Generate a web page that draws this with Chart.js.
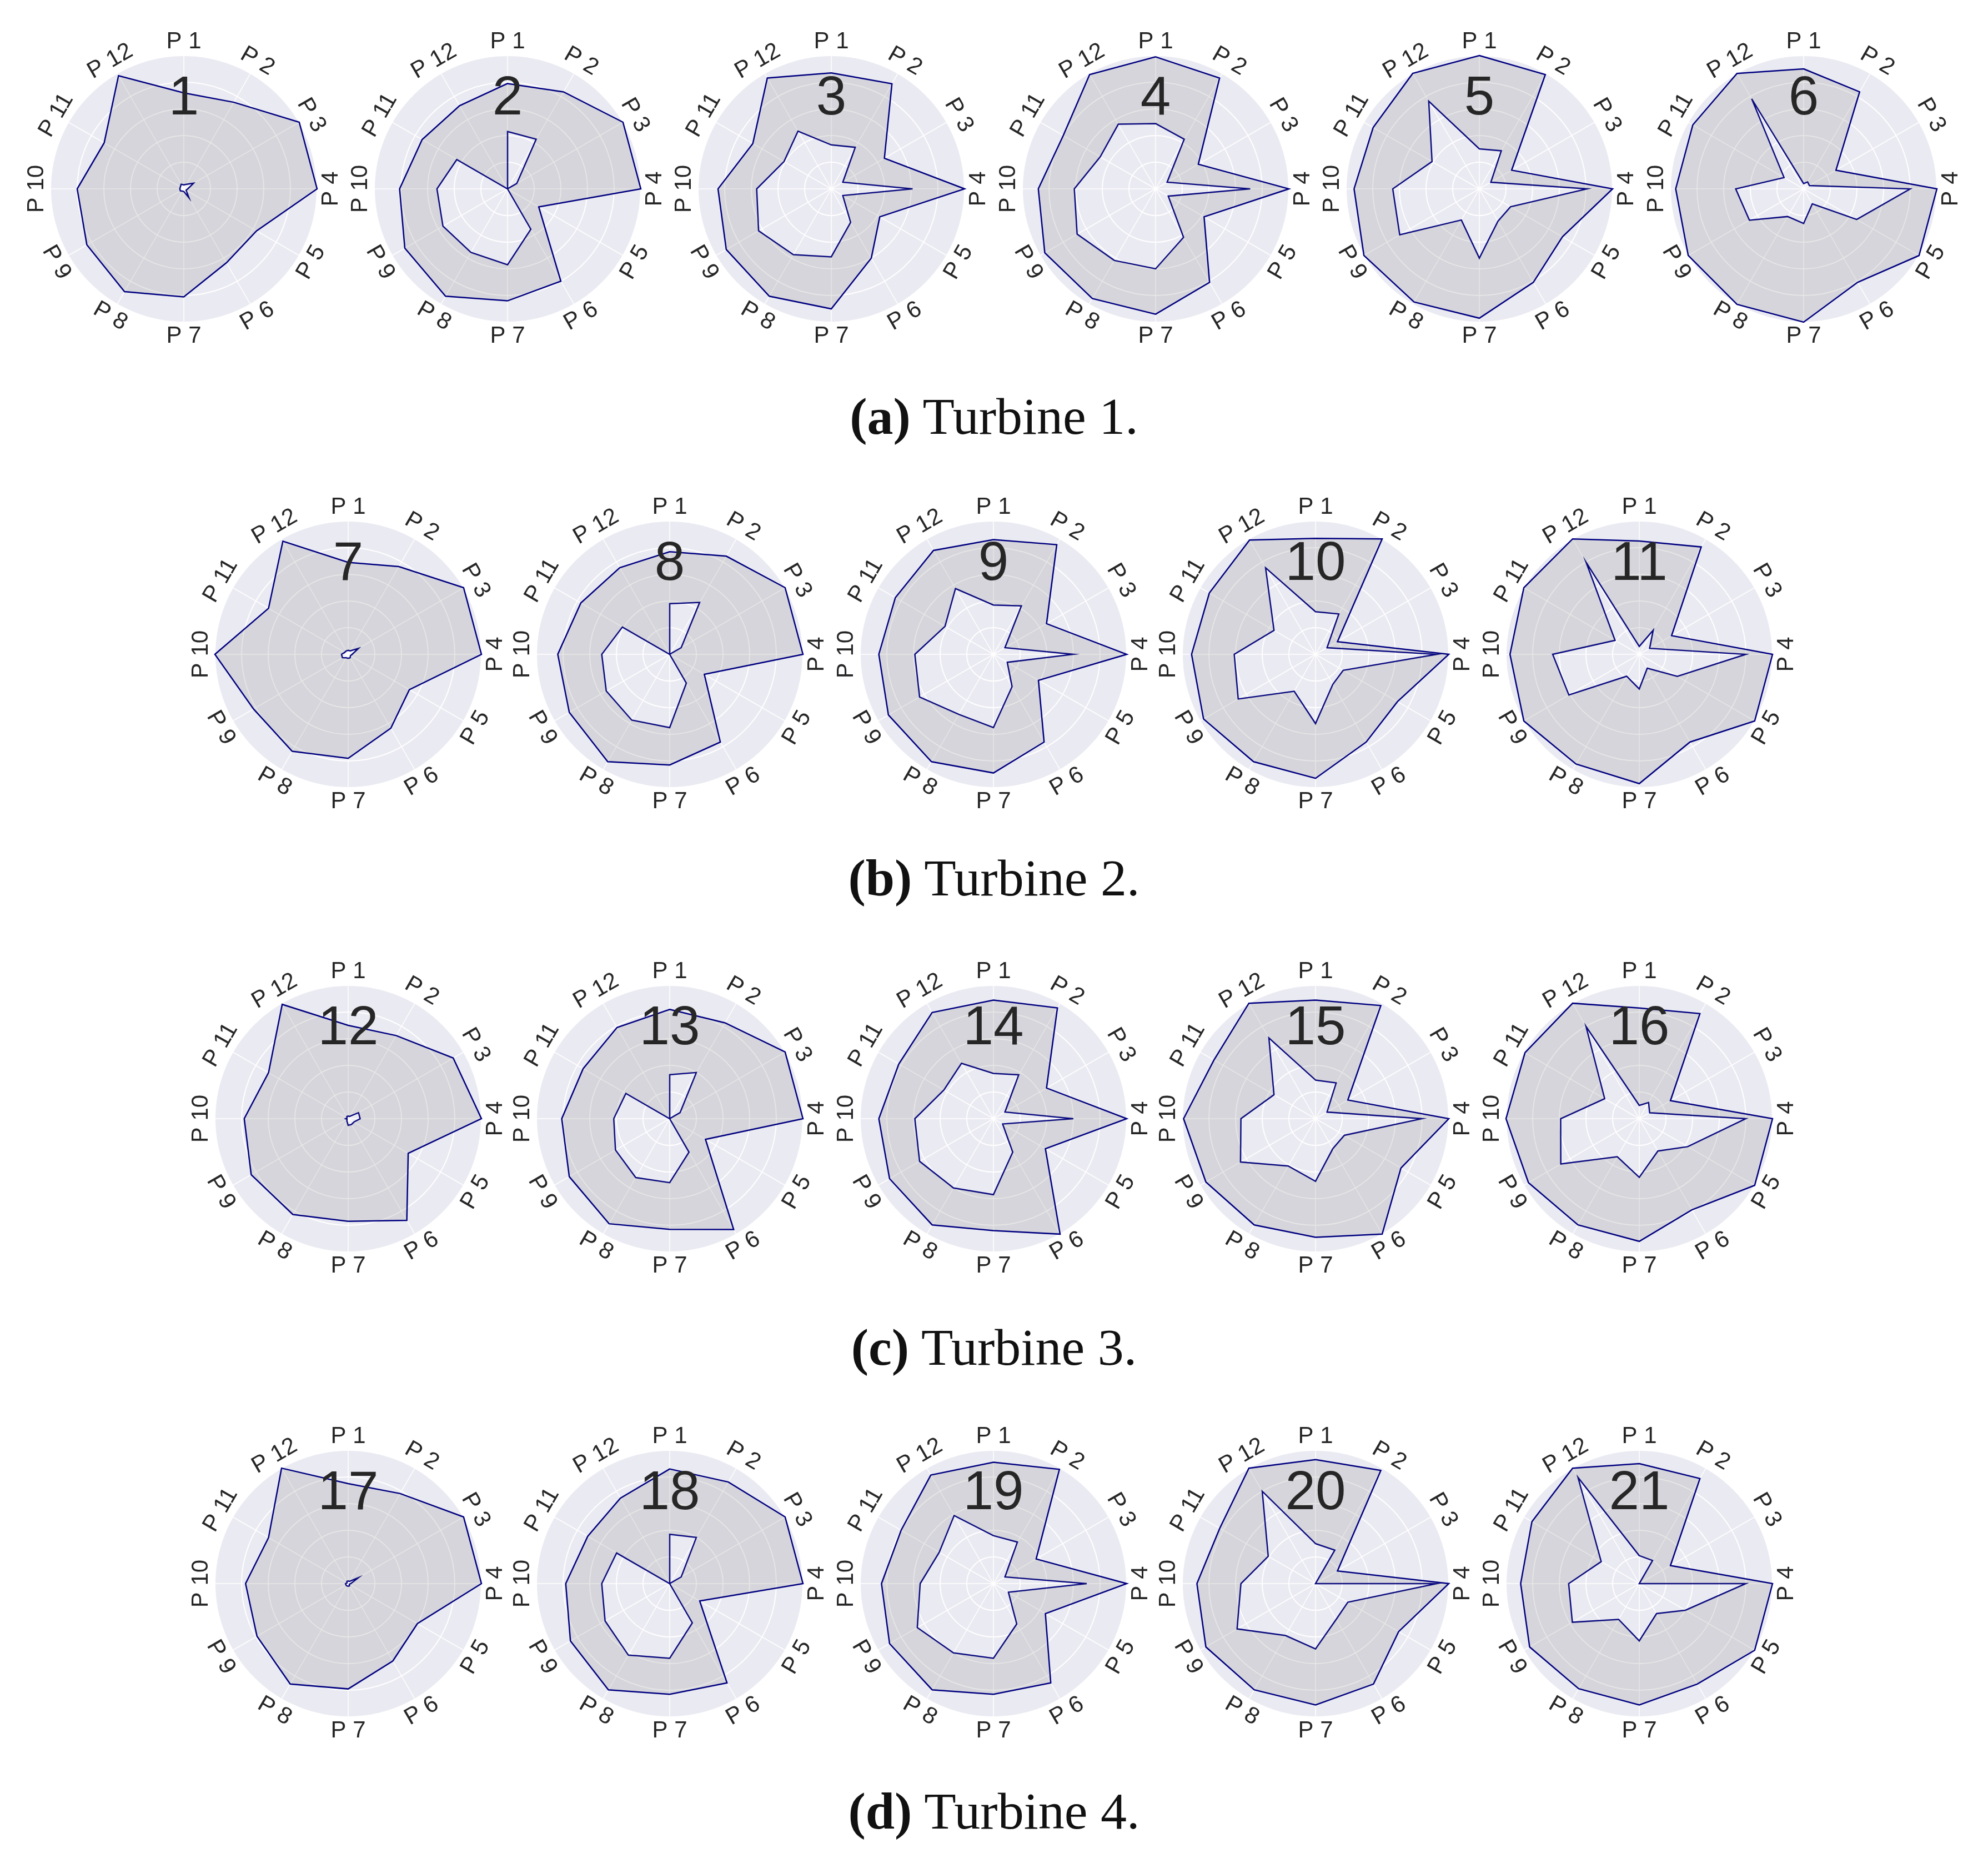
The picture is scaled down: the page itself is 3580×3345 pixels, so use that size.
<!DOCTYPE html>
<html>
<head>
<meta charset="utf-8">
<script src="https://cdn.jsdelivr.net/npm/chart.js@4.4.1/dist/chart.umd.min.js"></script>
<style>
  html, body { margin:0; padding:0; background:#ffffff; }
  body { width:3580px; height:3345px; position:relative; overflow:hidden; }
  canvas.rc { position:absolute; }
  .cap { position:absolute; left:0; width:3580px; text-align:center;
         font-family:"Palatino Linotype","Book Antiqua",Palatino,"Liberation Serif","DejaVu Serif",serif;
         font-size:94px; line-height:110px; color:#111; }
  .cap b { font-weight:bold; }
</style>
</head>
<body>
<script>
// ---------- DATA ----------
const pointLabels = ['P 1','P 2','P 3','P 4','P 5','P 6','P 7','P 8','P 9','P 10','P 11','P 12'];
const chartNumbers = ['1','2','3','4','5','6','7','8','9','10','11','12','13','14','15','16','17','18','19','20','21'];
const captionLetters = ['(a)','(b)','(c)','(d)'];
const captionTexts = ['Turbine 1.','Turbine 2.','Turbine 3.','Turbine 4.'];

// outer / inner profile of each radar, values P1..P12 (scale 0..1)
const outer01 = [0.72,0.75,1.00,1.00,0.63,0.64,0.81,0.89,0.84,0.80,0.69,0.98];
const inner01 = [0.03,0.04,0.085,0.03,0.02,0.08,0.02,0.02,0.03,0.03,0.03,0.04];
const outer02 = [0.79,0.84,1.00,1.00,0.27,0.80,0.84,0.93,0.89,0.81,0.74,0.72];
const inner02 = [0.43,0.43,0.08,0.00,0.00,0.35,0.57,0.55,0.56,0.53,0.44,0.00];
const outer03 = [0.87,0.91,0.46,1.00,0.42,0.60,0.90,0.93,0.91,0.85,0.68,0.96];
const inner03 = [0.33,0.36,0.10,0.61,0.10,0.29,0.51,0.57,0.63,0.56,0.41,0.50];
const outer04 = [0.99,0.96,0.37,1.00,0.42,0.81,0.94,0.95,0.96,0.88,0.80,0.99];
const inner04 = [0.49,0.43,0.10,0.71,0.11,0.42,0.60,0.62,0.68,0.61,0.48,0.56];
const outer05 = [1.00,0.99,0.28,1.00,0.72,0.81,0.97,0.98,1.00,0.94,0.92,1.00];
const inner05 = [0.30,0.33,0.10,0.81,0.27,0.28,0.52,0.27,0.69,0.65,0.41,0.76];
const outer06 = [0.90,0.84,0.28,1.00,1.00,0.81,1.00,1.00,1.00,0.96,0.96,1.00];
const inner06 = [0.04,0.06,0.05,0.80,0.46,0.13,0.26,0.24,0.47,0.51,0.17,0.78];
const outer07 = [0.69,0.76,1.00,1.00,0.53,0.64,0.78,0.84,0.82,1.00,0.69,0.98];
const inner07 = [0.03,0.03,0.09,0.03,0.02,0.03,0.03,0.03,0.05,0.05,0.03,0.03];
const outer08 = [0.77,0.85,1.00,1.00,0.30,0.76,0.83,0.93,0.87,0.84,0.77,0.75];
const inner08 = [0.38,0.45,0.10,0.00,0.00,0.25,0.55,0.57,0.55,0.51,0.41,0.00];
const outer09 = [0.86,0.95,0.46,1.00,0.39,0.76,0.89,0.93,0.91,0.86,0.85,0.90];
const inner09 = [0.37,0.42,0.10,0.60,0.12,0.28,0.55,0.52,0.64,0.59,0.42,0.57];
const outer10 = [0.87,1.00,0.19,1.00,0.71,0.76,0.93,0.93,0.97,0.93,0.92,0.99];
const inner10 = [0.32,0.35,0.10,0.91,0.24,0.26,0.52,0.32,0.67,0.61,0.36,0.75];
const outer11 = [0.85,0.93,0.28,1.00,1.00,0.76,0.97,0.95,1.00,0.97,1.00,1.00];
const inner11 = [0.06,0.21,0.09,0.80,0.33,0.12,0.26,0.19,0.61,0.65,0.21,0.80];
const outer12 = [0.70,0.72,0.91,1.00,0.52,0.88,0.77,0.83,0.84,0.78,0.69,0.99];
const inner12 = [0.02,0.02,0.09,0.09,0.05,0.05,0.05,0.02,0.01,0.02,0.01,0.02];
const outer13 = [0.82,0.83,1.00,1.00,0.31,0.96,0.83,0.91,0.87,0.81,0.75,0.79];
const inner13 = [0.33,0.40,0.09,0.00,0.00,0.29,0.48,0.51,0.47,0.42,0.38,0.00];
const outer14 = [0.89,0.96,0.46,1.00,0.45,1.00,0.84,0.92,0.90,0.86,0.82,0.92];
const inner14 = [0.34,0.38,0.10,0.60,0.08,0.29,0.57,0.60,0.64,0.59,0.43,0.48];
const outer15 = [0.89,0.98,0.28,1.00,0.74,1.00,0.89,0.92,0.95,0.99,0.88,1.00];
const inner15 = [0.29,0.31,0.10,0.80,0.25,0.26,0.47,0.41,0.65,0.56,0.36,0.70];
const outer16 = [0.83,0.91,0.27,1.00,1.00,0.79,0.92,0.92,0.96,1.00,0.99,1.00];
const inner16 = [0.10,0.14,0.09,0.80,0.42,0.28,0.44,0.33,0.68,0.59,0.30,0.80];
const outer17 = [0.75,0.78,1.00,1.00,0.60,0.67,0.79,0.87,0.79,0.77,0.69,1.00];
const inner17 = [0.02,0.02,0.09,0.02,0.01,0.02,0.02,0.02,0.02,0.02,0.01,0.02];
const outer18 = [0.86,0.88,1.00,1.00,0.26,0.86,0.83,0.92,0.86,0.78,0.71,0.74];
const inner18 = [0.37,0.40,0.10,0.00,0.00,0.34,0.56,0.62,0.56,0.51,0.46,0.00];
const outer19 = [0.91,0.99,0.37,1.00,0.45,0.86,0.83,0.92,0.90,0.84,0.80,0.94];
const inner19 = [0.36,0.36,0.10,0.70,0.13,0.35,0.56,0.60,0.66,0.55,0.47,0.59];
const outer20 = [0.93,0.98,0.19,1.00,0.72,0.87,0.91,0.92,0.95,0.89,0.83,1.00];
const inner20 = [0.30,0.29,0.00,0.91,0.28,0.31,0.49,0.45,0.68,0.56,0.41,0.80];
const outer21 = [0.90,0.91,0.27,1.00,1.00,0.87,0.91,0.91,0.95,0.89,0.93,1.00];
const inner21 = [0.21,0.20,0.00,0.80,0.40,0.26,0.43,0.31,0.58,0.53,0.33,0.92];

const outerSeries = [outer01,outer02,outer03,outer04,outer05,outer06,outer07,outer08,outer09,outer10,outer11,
                     outer12,outer13,outer14,outer15,outer16,outer17,outer18,outer19,outer20,outer21];
const innerSeries = [inner01,inner02,inner03,inner04,inner05,inner06,inner07,inner08,inner09,inner10,inner11,
                     inner12,inner13,inner14,inner15,inner16,inner17,inner18,inner19,inner20,inner21];

// ---------- LAYOUT ----------
const rowCenterY = [340, 1178, 2014, 2851];
const row1CenterX = [331, 914, 1497, 2081, 2664, 3248];
const rowNCenterX = [627, 1206, 1789, 2369, 2952];
const captionCenterY = [749, 1580, 2425, 3260];
const CANVAS = 600, PAD = 60;

const radarDecor = {
  id: 'radarDecor',
  afterDatasetsDraw(chart, args, opts) {
    const s = chart.scales.r, ctx = chart.ctx;
    ctx.save();
    ctx.fillStyle = '#262626';
    ctx.textAlign = 'center';
    ctx.textBaseline = 'middle';
    ctx.font = '42px "Liberation Sans", Arial, sans-serif';
    chart.data.labels.forEach((lab, i) => {
      const p = s.getPointPosition(i, s.drawingArea + 25);
      let a = Math.round(p.angle * 180 / Math.PI) + 90;
      a = ((((a + 90) % 180) + 180) % 180) - 90;
      ctx.save();
      ctx.translate(p.x, p.y);
      ctx.rotate(a * Math.PI / 180);
      ctx.fillText(lab, 0, 0);
      ctx.restore();
    });
    ctx.font = '98px "Liberation Sans", Arial, sans-serif';
    ctx.fillText(opts.num, s.xCenter, s.yCenter - 0.67 * s.drawingArea);
    ctx.restore();
  }
};

function makeRadar(idx, cx, cy) {
  const cv = document.createElement('canvas');
  cv.className = 'rc';
  cv.width = CANVAS; cv.height = CANVAS;
  cv.style.left = (cx - CANVAS / 2) + 'px';
  cv.style.top = (cy - CANVAS / 2) + 'px';
  document.body.appendChild(cv);
  new Chart(cv.getContext('2d'), {
    type: 'radar',
    data: {
      labels: pointLabels,
      datasets: [
        { data: outerSeries[idx], borderColor: '#000080', borderWidth: 2.5,
          backgroundColor: 'rgba(128,128,128,0.2)', fill: '+1', pointRadius: 0, pointHoverRadius: 0 },
        { data: innerSeries[idx], borderColor: '#000080', borderWidth: 2.5,
          fill: false, pointRadius: 0, pointHoverRadius: 0 }
      ]
    },
    options: {
      responsive: false, animation: false, devicePixelRatio: 1,
      layout: { padding: PAD },
      elements: { line: { tension: 0 } },
      plugins: { legend: { display: false }, tooltip: { enabled: false }, radarDecor: { num: chartNumbers[idx] } },
      scales: {
        r: {
          min: 0, max: 1,
          backgroundColor: '#EAEAF2',
          ticks: { display: false, stepSize: 0.2 },
          grid: { circular: true, color: '#ffffff', lineWidth: 2 },
          angleLines: { display: true, color: '#ffffff', lineWidth: 1.5 },
          pointLabels: { display: false }
        }
      }
    },
    plugins: [radarDecor]
  });
}

let k = 0;
row1CenterX.forEach(cx => { makeRadar(k++, cx, rowCenterY[0]); });
for (let r = 1; r < 4; r++) rowNCenterX.forEach(cx => { makeRadar(k++, cx, rowCenterY[r]); });

captionCenterY.forEach((y, i) => {
  const d = document.createElement('div');
  d.className = 'cap';
  d.style.top = (y - 55) + 'px';
  const b = document.createElement('b');
  b.textContent = captionLetters[i];
  d.appendChild(b);
  d.appendChild(document.createTextNode(' ' + captionTexts[i]));
  document.body.appendChild(d);
});
</script>
</body>
</html>
